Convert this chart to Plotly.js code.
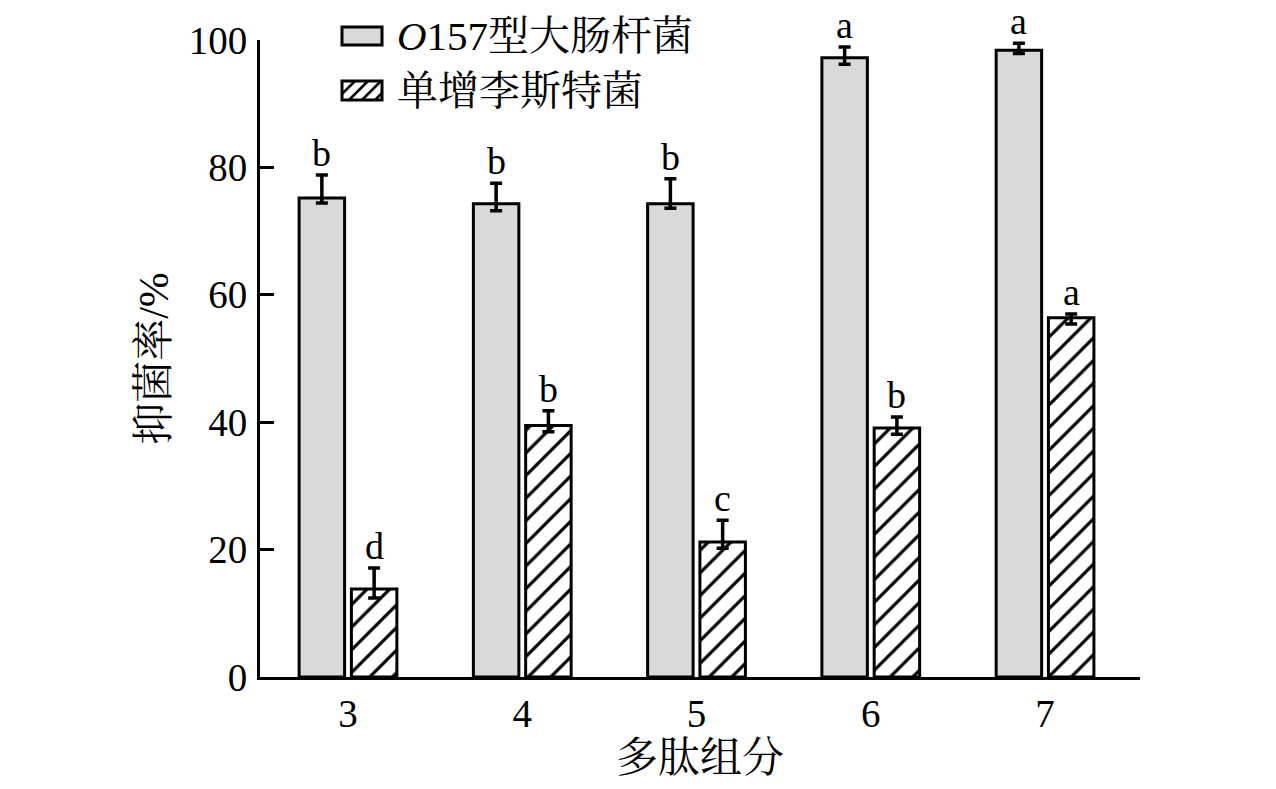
<!DOCTYPE html>
<html>
<head>
<meta charset="utf-8">
<script src="https://cdn.plot.ly/plotly-3.0.1.min.js"></script>
<style>
  html, body { margin: 0; padding: 0; background: #fff; }
  #chart { width: 1276px; height: 789px; }
</style>
</head>
<body>
<div id="chart"></div>
<script>
// data
var fractions = ['3', '4', '5', '6', '7'];
var ecoliRate = [75.2, 74.3, 74.3, 97.2, 98.4];
var ecoliErrPlus = [3.6, 3.2, 3.9, 1.7, 1.1];
var ecoliErrMinus = [0.8, 1.1, 0.7, 1.0, 0.5];
var ecoliLetters = ['b', 'b', 'b', 'a', 'a'];
var listeriaRate = [13.8, 39.5, 21.2, 39.1, 56.4];
var listeriaErrPlus = [3.3, 2.3, 3.4, 1.7, 0.6];
var listeriaErrMinus = [1.4, 1.0, 1.0, 1.0, 1.0];
var listeriaLetters = ['d', 'b', 'c', 'b', 'a'];
var seriesNames = ['<i>O</i>157型大肠杆菌', '单增李斯特菌'];

var FONT = 'Liberation Serif, "Times New Roman", "Noto Serif CJK SC", "Noto Sans CJK SC", serif';
var W = 1276, H = 789;
var M = {l: 260, r: 136, t: 40, b: 112};
var plotW = W - M.l - M.r, plotH = H - M.t - M.b;
var xRange = [-0.505, 4.545];
var bargap = 0.4;

var ecoli = {
    type: 'bar', name: seriesNames[0], x: fractions, y: ecoliRate,
    marker: {color: '#d9d9d9', line: {color: '#000', width: 3}},
    error_y: {type: 'data', symmetric: false, array: ecoliErrPlus, arrayminus: ecoliErrMinus,
              color: '#000', thickness: 3.5, width: 6},
    showlegend: false
};
var listeria = {
    type: 'bar', name: seriesNames[1], x: fractions, y: listeriaRate,
    marker: {color: '#fff', line: {color: '#000', width: 3},
             pattern: {shape: '/', fgcolor: '#000', bgcolor: '#fff', size: 16, solidity: 0.2}},
    error_y: {type: 'data', symmetric: false, array: listeriaErrPlus, arrayminus: listeriaErrMinus,
              color: '#000', thickness: 3.5, width: 6},
    showlegend: false
};

// significance letters above each error bar (x = category index)
var pxPerCat = plotW / (xRange[1] - xRange[0]);
var barShift = (1 - bargap) / 4 * pxPerCat;
var annotations = [];
function letter(i, yv, txt, shift) {
    return {x: i, y: yv, xref: 'x', yref: 'y', text: txt, showarrow: false,
        xshift: shift, yshift: -1, yanchor: 'bottom', height: 38, valign: 'bottom',
        font: {family: FONT, size: 38, color: '#000'}};
}
fractions.forEach(function (f, i) {
    annotations.push(letter(i, ecoliRate[i] + ecoliErrPlus[i], ecoliLetters[i], -barShift));
    annotations.push(letter(i, listeriaRate[i] + listeriaErrPlus[i], listeriaLetters[i], barShift));
});

// hand-drawn legend (Plotly's legend icons are too small)
function px(x) { return (x - M.l) / plotW; }
function py(y) { return (H - M.b - y) / plotH; }
var shapes = [];
var rows = [{top: 27, bottom: 45}, {top: 81, bottom: 100}];
var boxL = 342, boxR = 382, textL = 395;
shapes.push({type: 'rect', xref: 'paper', yref: 'paper',
    x0: px(boxL), x1: px(boxR), y0: py(rows[0].bottom), y1: py(rows[0].top),
    fillcolor: '#d9d9d9', line: {color: '#000', width: 3}});
shapes.push({type: 'rect', xref: 'paper', yref: 'paper',
    x0: px(boxL), x1: px(boxR), y0: py(rows[1].bottom), y1: py(rows[1].top),
    fillcolor: '#fff', line: {color: '#000', width: 3}});
var hTop = rows[1].top, hBot = rows[1].bottom, hh = hBot - hTop;
var path = '';
for (var s = boxL - hh; s < boxR; s += 13) {
    var xa = s, ya = hBot, xb = s + hh, yb = hTop;
    if (xa < boxL) { ya = hBot - (boxL - xa); xa = boxL; }
    if (xb > boxR) { yb = hTop + (xb - boxR); xb = boxR; }
    if (xb <= xa) continue;
    path += 'M' + px(xa) + ',' + py(ya) + 'L' + px(xb) + ',' + py(yb);
}
shapes.push({type: 'path', xref: 'paper', yref: 'paper', path: path, line: {color: '#000', width: 2.5}});
seriesNames.forEach(function (name, i) {
    annotations.push({xref: 'paper', yref: 'paper', x: px(textL), y: py((rows[i].top + rows[i].bottom) / 2),
        xanchor: 'left', yanchor: 'middle', showarrow: false, text: name,
        font: {family: FONT, size: 41, color: '#000'}});
});

var layout = {
    width: W, height: H,
    margin: M,
    paper_bgcolor: '#fff', plot_bgcolor: '#fff',
    barmode: 'group', bargap: bargap, bargroupgap: 0.13,
    font: {family: FONT, size: 38, color: '#000'},
    xaxis: {
        type: 'category', range: xRange, fixedrange: true,
        showline: true, linewidth: 3, linecolor: '#000',
        ticks: '', showgrid: false, zeroline: false,
        ticklabelstandoff: 0,
        tickfont: {family: FONT, size: 39, color: '#000'},
        title: {text: '多肽组分', standoff: 2, font: {family: FONT, size: 42, color: '#000'}}
    },
    yaxis: {
        range: [0, 100], dtick: 20, fixedrange: true,
        showline: true, linewidth: 3, linecolor: '#000',
        ticks: 'inside', ticklen: 14, tickwidth: 3, tickcolor: '#000',
        showgrid: false, zeroline: false,
        ticklabelstandoff: 2,
        tickfont: {family: FONT, size: 39, color: '#000'},
        title: {text: '抑菌率/%', standoff: 8, font: {family: FONT, size: 42, color: '#000'}}
    },
    shapes: shapes,
    annotations: annotations
};

Plotly.newPlot('chart', [ecoli, listeria], layout, {displayModeBar: false, staticPlot: true});
</script>
</body>
</html>
